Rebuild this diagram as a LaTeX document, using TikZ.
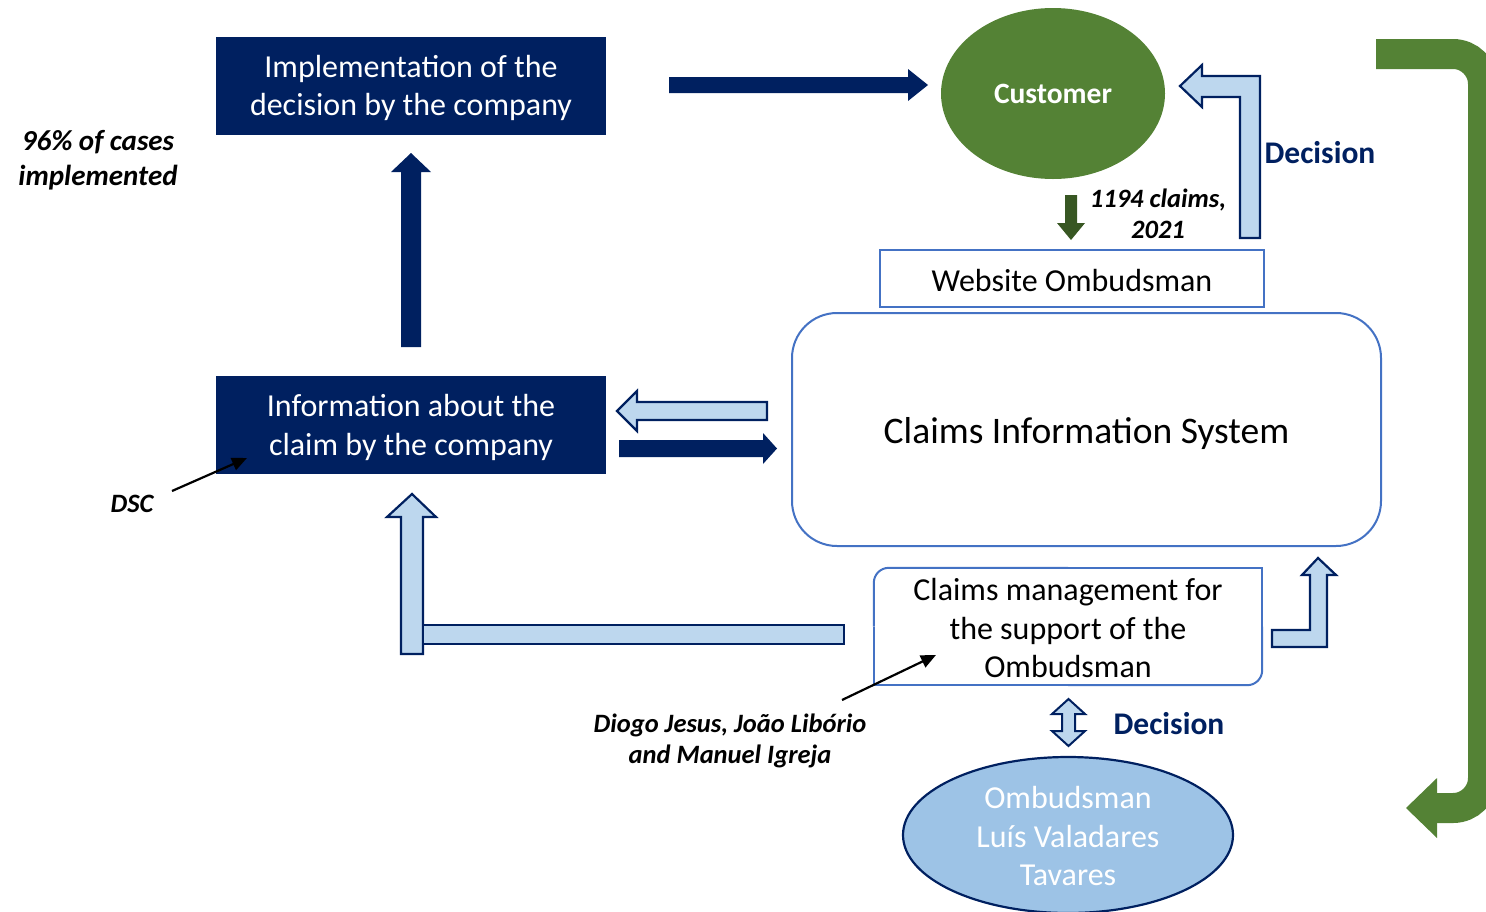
\documentclass[tikz,border=0pt]{standalone}
\usepackage{fontspec}
\setmainfont{Carlito}
\usetikzlibrary{shapes.geometric,arrows.meta}
\definecolor{navy}{HTML}{002060}
\definecolor{lblue}{HTML}{BDD7EE}
\definecolor{cgreen}{HTML}{548235}
\definecolor{dgreen}{HTML}{385723}
\definecolor{bord}{HTML}{4472C4}
\definecolor{oblue}{HTML}{9DC3E6}
\begin{document}
\begin{tikzpicture}[x=1pt,y=-1pt,
  body/.style={font=\fontsize{32}{38.5}\selectfont, align=center},
  darkbox/.style={fill=navy, minimum width=390pt, minimum height=98pt, inner sep=0pt},
  whitetext/.style={body, text=white, yshift=-2.5pt},
  bluebox/.style={draw=bord, line width=2pt, fill=white, inner sep=0pt},
  bordline/.style={draw=bord, line width=2pt},
  lightarrow/.style={fill=lblue, draw=navy, line width=2.2pt, line join=miter},
  darkarrow/.style={fill=navy},
  note/.style={font=\fontsize{26.5}{31.5}\selectfont\bfseries\itshape, align=center},
  dec/.style={font=\fontsize{31.5}{37}\selectfont\bfseries, text=navy},
  pointer/.style={line width=2.2pt, -{Triangle[length=15pt,width=13pt]}}
]
\useasboundingbox (0,0) rectangle (1486,911);

% big green curved arrow
\draw[cgreen, line width=30pt, rounded corners=30pt] (1376,54) -- (1483,54) -- (1483,808) -- (1436,808);
\fill[cgreen] (1437,778) -- (1406,808) -- (1437,838) -- cycle;

% boxes
\node[darkbox, label={[whitetext]center:{Implementation of the\\decision by the company}}] (impl) at (411,85.5) {};
\node[darkbox, label={[whitetext]center:{Information about the\\claim by the company}}] (info) at (411,425) {};
\node[ellipse, fill=cgreen, minimum width=224pt, minimum height=171pt, inner sep=0pt, text=white, font=\fontsize{29.5}{35}\selectfont\bfseries] (cust) at (1053,93.5) {Customer};
\node[bluebox, minimum width=384pt, minimum height=57pt, label={[body, yshift=-2pt]center:Website Ombudsman}] (web) at (1072,278.5) {};
\node[bluebox, rounded corners=45pt, minimum width=589pt, minimum height=233pt, label={[font=\fontsize{37.5}{44}\selectfont, yshift=-4pt]center:Claims Information System}] (cis) at (1086.5,429.5) {};
\node[minimum width=388pt, minimum height=117pt, inner sep=0pt, label={[body, yshift=-1.5pt]center:{Claims management for\\the support of the\\Ombudsman}}] (mgmt) at (1068,626.5) {};
\draw[bordline, rounded corners=15pt] (mgmt.north) -- (mgmt.north west) -- (mgmt.west);
\draw[bordline] (mgmt.north) -- (mgmt.north east) -- (mgmt.east);
\draw[bordline] (mgmt.west) -- (mgmt.south west) -- (mgmt.south);
\draw[bordline, rounded corners=15pt] (mgmt.south) -- (mgmt.south east) -- (mgmt.east);
\node[ellipse, fill=oblue, draw=navy, line width=2.2pt, minimum width=330pt, minimum height=156pt, inner sep=0pt, label={[body, text=white, yshift=-1pt]center:{Ombudsman\\Luís Valadares\\Tavares}}] (omb) at (1068,835) {};

% dark arrows
\fill[darkarrow] (401,347) -- (401,172) -- (391,172) -- (411,153) -- (431,172) -- (421,172) -- (421,347) -- cycle;
\fill[darkarrow] (669,77) -- (908,77) -- (908,69) -- (928,85) -- (908,101) -- (908,93) -- (669,93) -- cycle;
\fill[darkarrow] (619,440) -- (763,440) -- (763,433) -- (777,448.5) -- (763,464) -- (763,457) -- (619,457) -- cycle;

% light arrows
\draw[lightarrow] (767,402) -- (637,402) -- (637,391) -- (617,411) -- (637,431) -- (637,420) -- (767,420) -- cycle;
\draw[lightarrow] (1240,238) -- (1240,97) -- (1202,97) -- (1202,107) -- (1180,86) -- (1202,65) -- (1202,76) -- (1260,76) -- (1260,238) -- cycle;
\draw[lightarrow] (401,654) -- (401,517) -- (387,517) -- (412,494) -- (436,517) -- (423,517) -- (423,654) -- cycle;
\draw[lightarrow] (423,625) rectangle (844,644);
\draw[lightarrow] (1272,630) -- (1310,630) -- (1310,575) -- (1302,575) -- (1318,558) -- (1336,575) -- (1327,575) -- (1327,647) -- (1272,647) -- cycle;
\draw[lightarrow, line width=2pt] (1062,714) -- (1052,714) -- (1068.5,699) -- (1085,714) -- (1075,714) -- (1075,731) -- (1085,731) -- (1068.5,746) -- (1052,731) -- (1062,731) -- cycle;

% small green arrow
\fill[dgreen] (1065,195) -- (1065,223) -- (1057,223) -- (1071,240) -- (1085,223) -- (1077,223) -- (1077,195) -- cycle;

% labels
\node[note, font=\fontsize{29}{35}\selectfont\bfseries\itshape] (pct) at (98,160) {96\% of cases\\implemented};
\node[note] (claims) at (1158,214) {1194 claims,\\2021};
\node[note] (dsc) at (132,504) {DSC};
\node[note] (authors) at (730,741) {Diogo Jesus, João Libório\\and Manuel Igreja};
\node[dec] (dec1) at (1320,153) {Decision};
\node[dec] (dec2) at (1169,724) {Decision};

% pointers
\coordinate (dscfrom) at (172,491);
\coordinate (dscto) at (247,458);
\draw[pointer] (dscfrom) -- (dscto);
\coordinate (dgfrom) at (842,700);
\coordinate (dgto) at (936,655);
\draw[pointer] (dgfrom) -- (dgto);
\end{tikzpicture}
\end{document}
